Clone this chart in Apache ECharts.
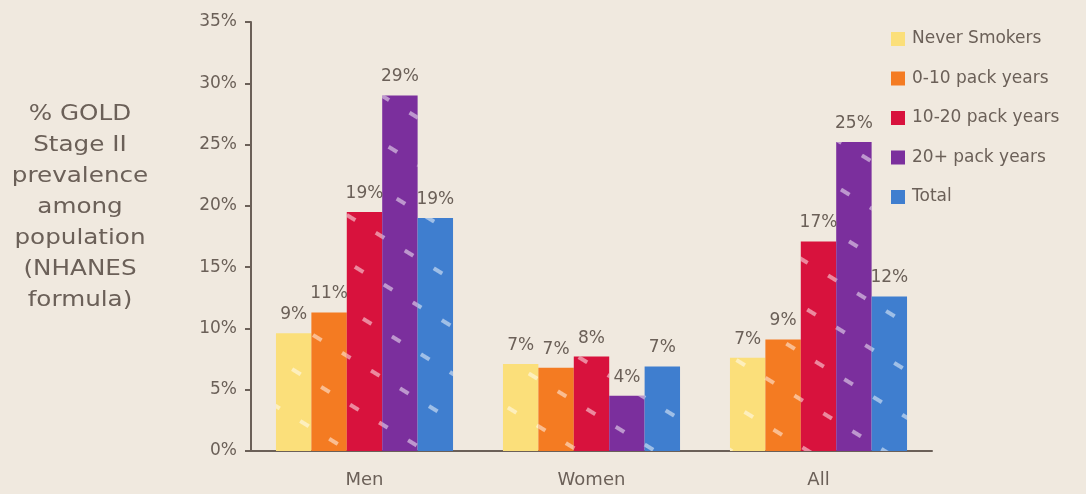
<!DOCTYPE html>
<html>
<head>
<meta charset="utf-8">
<script src="https://cdn.jsdelivr.net/npm/echarts@6/dist/echarts.min.js"></script>
<style>
  html, body { margin: 0; padding: 0; background: #f0e9df; }
  #chart { width: 1086px; height: 494px; }
</style>
</head>
<body>
<div id="chart"></div>
<script>
const groups = ["Men", "Women", "All"];
const seriesNames = ["Never Smokers", "0-10 pack years", "10-20 pack years", "20+ pack years", "Total"];
const neverSmokers = [9.6, 7.1, 7.6];
const packYears0to10 = [11.3, 6.8, 9.1];
const packYears10to20 = [19.5, 7.7, 17.1];
const packYears20plus = [29.0, 4.5, 25.2];
const total = [19.0, 6.9, 12.6];
// labels as printed on the chart
const neverSmokersLabels = ["9%", "7%", "7%"];
const packYears0to10Labels = ["11%", "7%", "9%"];
const packYears10to20Labels = ["19%", "8%", "17%"];
const packYears20plusLabels = ["29%", "4%", "25%"];
const totalLabels = ["19%", "7%", "12%"];
const yTicks = [0, 5, 10, 15, 20, 25, 30, 35];
const titleLines = ["% GOLD", "Stage II", "prevalence", "among", "population", "(NHANES", "formula)"];

const colors = ["#fbdf7a", "#f47b22", "#d8123d", "#7b2f9d", "#3f7ecf"];
const ink = "#6b6058";
const font = "'DejaVu Sans', sans-serif";
const values = [neverSmokers, packYears0to10, packYears10to20, packYears20plus, total];
const labels = [neverSmokersLabels, packYears0to10Labels, packYears10to20Labels, packYears20plusLabels, totalLabels];

const chart = echarts.init(document.getElementById("chart"));

chart.setOption({
  backgroundColor: "#f0e9df",
  textStyle: { fontFamily: font },
  grid: { left: 251, right: 154, top: 22, bottom: 43 },
  legend: {
    orient: "vertical",
    left: 891,
    top: 29,
    padding: 0,
    itemWidth: 14,
    itemHeight: 14,
    itemGap: 19.5,
    icon: "rect",
    itemStyle: { decal: "none" },
    textStyle: { color: ink, fontSize: 17, lineHeight: 20, fontFamily: font, padding: [0, 0, 0, 2] },
    data: seriesNames,
  },
  xAxis: {
    type: "category",
    data: groups,
    axisLine: { lineStyle: { color: ink, width: 2 } },
    axisTick: { show: false },
    axisLabel: { color: ink, fontSize: 18, margin: 20, fontFamily: font },
  },
  yAxis: {
    type: "value",
    min: yTicks[0],
    max: yTicks[yTicks.length - 1],
    interval: 5,
    axisLine: { show: true, lineStyle: { color: ink, width: 2 } },
    axisTick: { show: true, length: 6, lineStyle: { color: ink, width: 2 } },
    splitLine: { show: false },
    axisLabel: { color: ink, fontSize: 17, margin: 14, fontFamily: font, formatter: (v) => `${v}%` },
  },
  graphic: [
    {
      type: "text",
      x: 80,
      y: 99,
      scaleX: 1.12,
      style: {
        text: titleLines.join("\n"),
        align: "center",
        verticalAlign: "top",
        fill: ink,
        fontSize: 22,
        lineHeight: 31,
        fontFamily: font,
      },
    },
  ],
  series: seriesNames.map((name, i) => ({
    name,
    type: "bar",
    data: values[i],
    barGap: "0%",
    barCategoryGap: "22%",
    itemStyle: {
      color: colors[i],
      decal: {
        symbol: "rect",
        symbolSize: 1,
        color: "rgba(255,255,255,0.5)",
        dashArrayX: [[10, 24]],
        dashArrayY: [4, 36],
        rotation: 0.55,
      },
    },
    label: {
      show: true,
      position: "top",
      color: ink,
      fontSize: 17,
      distance: 10,
      fontFamily: font,
      formatter: (p) => labels[i][p.dataIndex],
    },
  })),
});
</script>
</body>
</html>
